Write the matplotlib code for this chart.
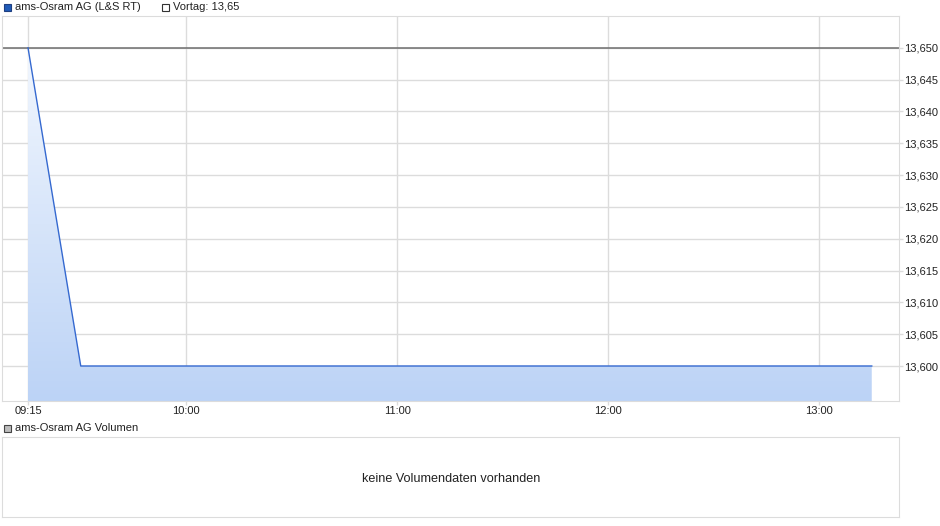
import matplotlib
matplotlib.use('Agg')
import matplotlib.pyplot as plt
import matplotlib.dates as mdates
from matplotlib.ticker import FixedLocator, FuncFormatter
from matplotlib.colors import LinearSegmentedColormap
import numpy as np
import pandas as pd

plt.rcParams['font.family'] = ['Liberation Sans', 'DejaVu Sans']

# data
times = ['09:15', '09:30', '13:15']
prices = [13.65, 13.60, 13.60]
prev_close = 13.65
price_ticks = [13.600, 13.605, 13.610, 13.615, 13.620, 13.625,
               13.630, 13.635, 13.640, 13.645, 13.650]
time_ticks = ['09:15', '10:00', '11:00', '12:00', '13:00']
series_label = 'ams-Osram AG (L&S RT)'
prev_label = 'Vortag: 13,65'
volume_label = 'ams-Osram AG Volumen'
no_volume_text = 'keine Volumendaten vorhanden'

day = '2024-01-02 '
t = pd.to_datetime([day + s for s in times])
x = mdates.date2num(t)
xticks = mdates.date2num(pd.to_datetime([day + s for s in time_ticks]))
xmin = mdates.date2num(pd.Timestamp(day + '09:07:36'))
xmax = mdates.date2num(pd.Timestamp(day + '13:22:45'))
ymin, ymax = 13.5945, 13.6550

grid_c = '#dcdcdc'
line_c = '#3569d0'

fig = plt.figure(figsize=(9.4, 5.26), dpi=100)
W, H = 940, 526

ax = fig.add_axes([2 / W, 1 - 401 / H, 897 / W, 385 / H])
ax.set_xlim(xmin, xmax)
ax.set_ylim(ymin, ymax)

# gradient fill under the line
poly = ax.fill_between(x, prices, ymin, color='none', lw=0)
cmap = LinearSegmentedColormap.from_list('g', ['#bcd3f6', '#f2f7fe'])
grad = np.linspace(0, 1, 256).reshape(-1, 1)
im = ax.imshow(grad, cmap=cmap, aspect='auto', origin='lower',
               extent=[x[0], x[-1], ymin, prev_close], zorder=1)
im.set_clip_path(poly.get_paths()[0], transform=ax.transData)
ax.set_xlim(xmin, xmax)
ax.set_ylim(ymin, ymax)

ax.plot(x, prices, color=line_c, lw=1.0, zorder=3)
ax.axhline(prev_close, color='#6e6e6e', lw=1.1, zorder=2)

ax.yaxis.tick_right()
ax.yaxis.set_major_locator(FixedLocator(price_ticks))
ax.yaxis.set_major_formatter(FuncFormatter(lambda v, p: f'{v:.3f}'.replace('.', ',')))
ax.xaxis.set_major_locator(FixedLocator(xticks))
ax.set_xticklabels(time_ticks)
ax.tick_params(axis='both', labelsize=8, colors=grid_c, labelcolor='#222222',
               length=3, width=1)
ax.tick_params(axis='x', length=3, pad=0.5)
ax.tick_params(axis='y', pad=0.5)
ax.grid(True, color=grid_c, lw=1, zorder=0)
ax.set_axisbelow(True)
for s in ax.spines.values():
    s.set_color(grid_c)

# legend row
fig.patches.append(plt.Rectangle((4 / W, 1 - 11 / H), 7 / W, 7 / H, transform=fig.transFigure,
                                 facecolor='#1f5bb8', edgecolor='#1f3f80', lw=0.8))
fig.text(15 / W, 1 - 7 / H, series_label, fontsize=8, va='center', color='#222222')
fig.patches.append(plt.Rectangle((162 / W, 1 - 11 / H), 7 / W, 7 / H, transform=fig.transFigure,
                                 facecolor='white', edgecolor='#333333', lw=0.8))
fig.text(173 / W, 1 - 7 / H, prev_label, fontsize=8, va='center', color='#222222')

fig.patches.append(plt.Rectangle((4 / W, 1 - 432 / H), 7 / W, 7 / H, transform=fig.transFigure,
                                 facecolor='#bdbdbd', edgecolor='#444444', lw=0.8))
fig.text(15 / W, 1 - 428 / H, volume_label, fontsize=8, va='center', color='#222222')

# volume panel
ax2 = fig.add_axes([2 / W, 1 - 517 / H, 897 / W, 80 / H])
ax2.set_xticks([])
ax2.set_yticks([])
for s in ax2.spines.values():
    s.set_color(grid_c)
ax2.text(0.501, 0.48, no_volume_text, transform=ax2.transAxes, ha='center',
         va='center', fontsize=9.1, color='#222222')

fig.savefig('out.png', dpi=100)
